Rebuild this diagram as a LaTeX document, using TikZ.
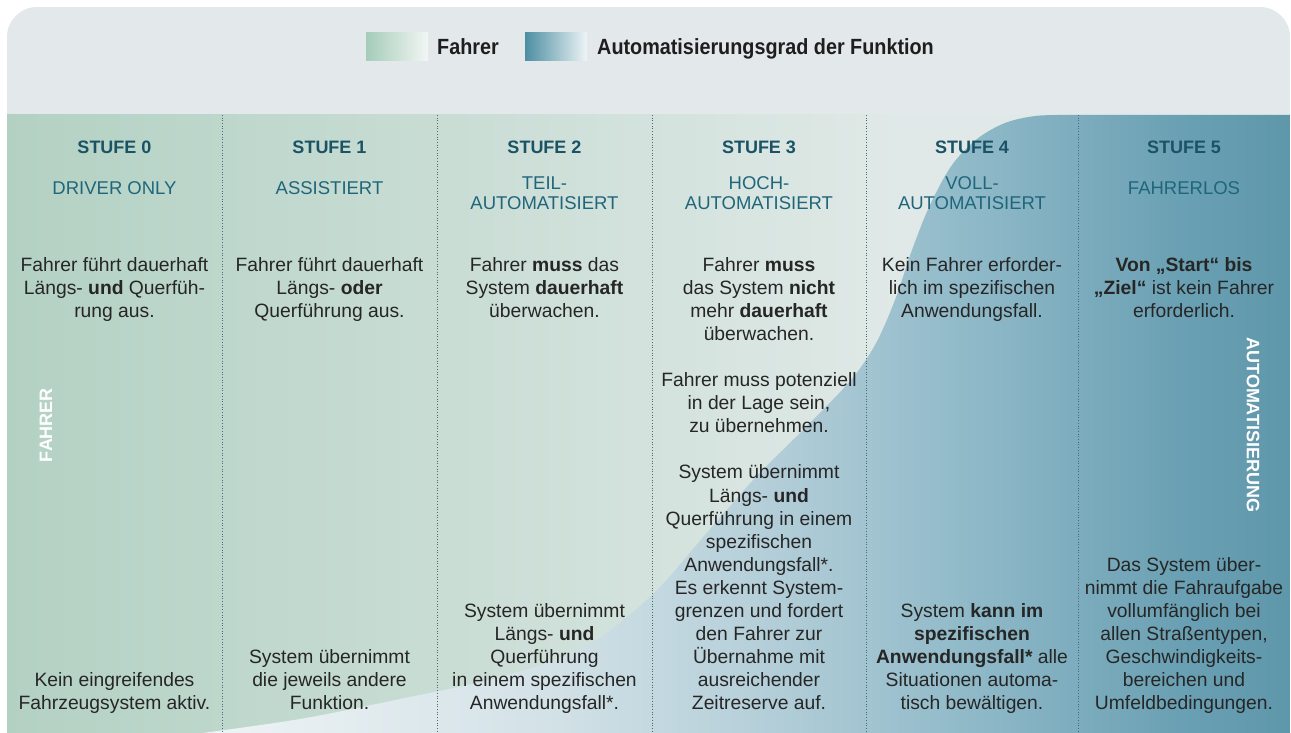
\documentclass[tikz,border=0pt]{standalone}
\usepackage{fontspec}
\setmainfont{Liberation Sans}
\newfontfamily\narrowfont[FakeStretch=0.9]{Liberation Sans}

% palette
\definecolor{bandgray}{HTML}{E3E8EB}
\definecolor{drvA}{HTML}{B3D1C3}
\definecolor{drvB}{HTML}{E0E9E7}
\definecolor{autA}{HTML}{EEF3F5}
\definecolor{autB}{HTML}{D3E2E7}
\definecolor{autC}{HTML}{B5CFD9}
\definecolor{autD}{HTML}{8FB9C8}
\definecolor{autE}{HTML}{6AA0B3}
\definecolor{autF}{HTML}{5F97AA}
\definecolor{legGA}{HTML}{A5CCB9}
\definecolor{legGB}{HTML}{F2F6F4}
\definecolor{legBA}{HTML}{4D8EA3}
\definecolor{legBB}{HTML}{EEF4F6}
\definecolor{stufecol}{HTML}{1A5365}
\definecolor{namecol}{HTML}{20667B}
\definecolor{bodycol}{HTML}{262626}
\definecolor{legcol}{HTML}{1E1E1E}
\definecolor{sepcol}{HTML}{4D6A73}

% driver share: green fading to the right
\pgfdeclarehorizontalshading{drivershade}{100bp}{color(0bp)=(drvA); color(25bp)=(drvA); color(60bp)=(drvB); color(100bp)=(drvB)}
% automation share: pale at the curve, deep teal at the right edge
\pgfdeclarehorizontalshading{autoshade}{100bp}{color(0bp)=(autA); color(26bp)=(autA); color(41bp)=(autB); color(50.8bp)=(autC); color(60.5bp)=(autD); color(70bp)=(autE); color(75bp)=(autF); color(100bp)=(autF)}

\newcommand{\txtrows}[1]{\begin{tabular}[t]{@{}c@{}}#1\end{tabular}}

\begin{document}
\begin{tikzpicture}[x=1pt,y=-1pt,
  stufelbl/.style={font=\fontsize{18}{20}\selectfont\bfseries, text=stufecol, anchor=base, inner sep=0pt},
  namelbl/.style={font=\fontsize{18.5}{20}\selectfont, text=namecol, anchor=base, inner sep=0pt},
  bodytxt/.style={font=\fontsize{19.3}{23.05}\selectfont, text=bodycol, anchor=base, inner sep=0pt},
  vlabel/.style={font=\fontsize{18}{20}\selectfont\bfseries, text=white, inner sep=0pt},
  legendtxt/.style={font=\narrowfont\fontsize{22}{24}\selectfont\bfseries, text=legcol, anchor=base west, inner sep=0pt},
  colsep/.style={line width=1pt, dash pattern=on 1pt off 1.7pt, draw=sepcol}]

\useasboundingbox (0,0) rectangle (1291,733);

\begin{scope}
  \clip[rounded corners=30pt] (7,7) rectangle (1290,780);
  % header band
  \fill[bandgray] (7,7) rectangle (1290,115);
  % chart body, driver share
  \shade[shading=drivershade] (7,115) rectangle (1290,760);
  % automation share under the S-curve
  \shade[shading=autoshade]
    plot[smooth, tension=0.55] coordinates {(195,734) (300,719) (400,699) (500,677) (583,648) (650,597) (705,535) (755,478) (805,428) (850,381) (875,345) (895,300) (912,250) (930,205) (952,165) (977,139) (1005,123) (1035,116) (1065,115)}
    -- (1290,115) -- (1290,760) -- (195,760) -- cycle;
  % column separators
  \foreach \xx in {222,437,652,866,1078}
    \draw[colsep] (\xx,115) -- (\xx,760);
\end{scope}

% legend
\shade[left color=legGA, right color=legGB] (366,33) rectangle (428,61);
\node[legendtxt] (legdrv) at (437,55) {Fahrer};
\shade[left color=legBA, right color=legBB] (525,33) rectangle (587,61);
\node[legendtxt] (legauto) at (597,55) {Automatisierungsgrad der Funktion};

% level headings
\node[stufelbl] (s0) at (114.5,153.5) {STUFE 0};
\node[stufelbl] (s1) at (329.5,153.5) {STUFE 1};
\node[stufelbl] (s2) at (544.5,153.5) {STUFE 2};
\node[stufelbl] (s3) at (759,153.5) {STUFE 3};
\node[stufelbl] (s4) at (972,153.5) {STUFE 4};
\node[stufelbl] (s5) at (1184,153.5) {STUFE 5};

\node[namelbl] (n0) at (114.5,194.5) {DRIVER ONLY};
\node[namelbl] (n1) at (329.5,194.5) {ASSISTIERT};
\node[namelbl] (n2) at (544.5,189.5) {\txtrows{TEIL-\\AUTOMATISIERT}};
\node[namelbl] (n3) at (759,189.5) {\txtrows{HOCH-\\AUTOMATISIERT}};
\node[namelbl] (n4) at (972,189.5) {\txtrows{VOLL-\\AUTOMATISIERT}};
\node[namelbl] (n5) at (1184,194.5) {FAHRERLOS};

% role of the driver
\node[bodytxt] (t0) at (114.5,271.5) {\txtrows{Fahrer führt dauerhaft\\Längs- \textbf{und} Querfüh-\\rung aus.}};
\node[bodytxt] (t1) at (329.5,271.5) {\txtrows{Fahrer führt dauerhaft\\Längs- \textbf{oder}\\Querführung aus.}};
\node[bodytxt] (t2) at (544.5,271.5) {\txtrows{Fahrer \textbf{muss} das\\System \textbf{dauerhaft}\\überwachen.}};
\node[bodytxt] (t3) at (759,271.5) {\txtrows{Fahrer \textbf{muss}\\das System \textbf{nicht}\\mehr \textbf{dauerhaft}\\überwachen.\\ \\Fahrer muss potenziell\\in der Lage sein,\\zu übernehmen.\\ \\System übernimmt\\Längs- \textbf{und}\\Querführung in einem\\spezifischen\\Anwendungsfall*.\\Es erkennt System-\\grenzen und fordert\\den Fahrer zur\\Übernahme mit\\ausreichender\\Zeitreserve auf.}};
\node[bodytxt] (t4) at (972,271.5) {\txtrows{Kein Fahrer erforder-\\lich im spezifischen\\Anwendungsfall.}};
\node[bodytxt] (t5) at (1184,271.5) {\txtrows{\textbf{Von „Start“ bis}\\\textbf{„Ziel“} ist kein Fahrer\\erforderlich.}};

% role of the system
\node[bodytxt] (b0) at (114.5,686.45) {\txtrows{Kein eingreifendes\\Fahrzeugsystem aktiv.}};
\node[bodytxt] (b1) at (329.5,663.4) {\txtrows{System übernimmt\\die jeweils andere\\Funktion.}};
\node[bodytxt] (b2) at (544.5,617.3) {\txtrows{System übernimmt\\Längs- \textbf{und}\\Querführung\\in einem spezifischen\\Anwendungsfall*.}};
\node[bodytxt] (b4) at (972,617.3) {\txtrows{System \textbf{kann im}\\\textbf{spezifischen}\\\textbf{Anwendungsfall*} alle\\Situationen automa-\\tisch bewältigen.}};
\node[bodytxt] (b5) at (1184,571.2) {\txtrows{Das System über-\\nimmt die Fahraufgabe\\vollumfänglich bei\\allen Straßentypen,\\Geschwindigkeits-\\bereichen und\\Umfeldbedingungen.}};

% axis captions
\node[vlabel, rotate=90] (vdrv) at (46,425) {FAHRER};
\node[vlabel, rotate=-90] (vauto) at (1253,425) {AUTOMATISIERUNG};

\end{tikzpicture}
\end{document}
